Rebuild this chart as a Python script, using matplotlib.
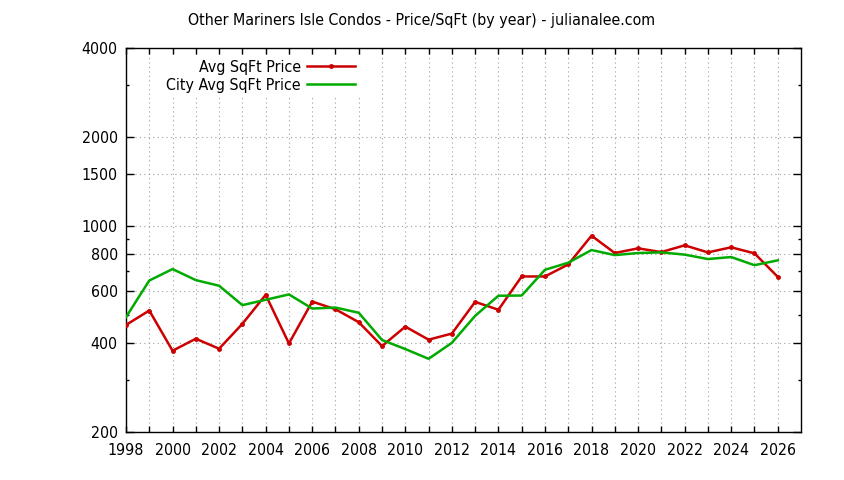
import matplotlib
matplotlib.use("Agg")
import matplotlib.pyplot as plt
from matplotlib.ticker import FixedLocator, FixedFormatter, NullFormatter

years = list(range(1998, 2027))
avg_price = [461, 516, 377, 414, 383, 465, 583, 399, 553, 521, 471, 391, 455, 411, 431,
             552, 519, 673, 673, 739, 925, 808, 838, 814, 858, 812, 845, 806, 671]
city_price = [490, 652, 713, 654, 626, 538, 561, 585, 524, 528, 507, 410, 382, 354, 401,
              495, 579, 580, 709, 749, 827, 795, 808, 812, 798, 771, 783, 735, 763]

y_major = [200, 400, 600, 800, 1000, 1500, 2000, 4000]
y_minor = [300, 500, 700, 900, 3000]
x_labels_years = list(range(1998, 2027, 2))

title = "Other Mariners Isle Condos - Price/SqFt (by year) - julianalee.com"

plt.rcParams['font.family'] = ['DejaVu Sans']
plt.rcParams['font.stretch'] = 'condensed'
FS = 11.4

fig = plt.figure(figsize=(8.44, 4.8), dpi=100)
ax = fig.add_axes([126/844, 1-432/480, (801-126)/844, (432-48)/480])

red = '#cc0000'
green = '#00aa00'
ax.plot(years, avg_price, color=red, lw=1.8, marker='o', ms=2.5, label='Avg SqFt Price', zorder=3)
ax.plot(years, city_price, color=green, lw=1.8, label='City Avg SqFt Price', zorder=3)

ax.set_yscale('log')
ax.set_ylim(200, 4000)
ax.set_xlim(1998, 2027)

ax.yaxis.set_major_locator(FixedLocator(y_major))
ax.yaxis.set_major_formatter(FixedFormatter([str(v) for v in y_major]))
ax.yaxis.set_minor_locator(FixedLocator(y_minor))
ax.yaxis.set_minor_formatter(NullFormatter())

ax.xaxis.set_major_locator(FixedLocator(years))
ax.xaxis.set_major_formatter(FixedFormatter([str(y) if y in x_labels_years else '' for y in years]))

ax.tick_params(axis='both', which='both', direction='in', top=True, right=True,
               labelsize=FS, colors='black', width=1)
ax.tick_params(axis='y', which='major', length=6, pad=6)
ax.tick_params(axis='y', which='minor', length=2.5)
ax.tick_params(axis='x', which='major', length=4.5, pad=8)

for s in ax.spines.values():
    s.set_linewidth(1)
    s.set_color('black')

ax.grid(True, which='major', color='#a0a0a0', linestyle=(0, (1, 3)), linewidth=0.8, zorder=0)

leg = ax.legend(loc='upper right', bbox_to_anchor=(0.346, 0.982), frameon=True, fontsize=FS,
                markerfirst=False, handlelength=3.0, handletextpad=0.4, labelspacing=0.2,
                borderpad=0.3, borderaxespad=0)
leg.get_frame().set_edgecolor('none')
leg.get_frame().set_facecolor('white')
leg.get_frame().set_alpha(1)
for t in leg.get_texts():
    t.set_ha('right')
leg._legend_box.align = 'right'

fig.text(422/844, 1-20/480, title, ha='center', va='center', fontsize=FS)

fig.savefig('out.png', dpi=100)
